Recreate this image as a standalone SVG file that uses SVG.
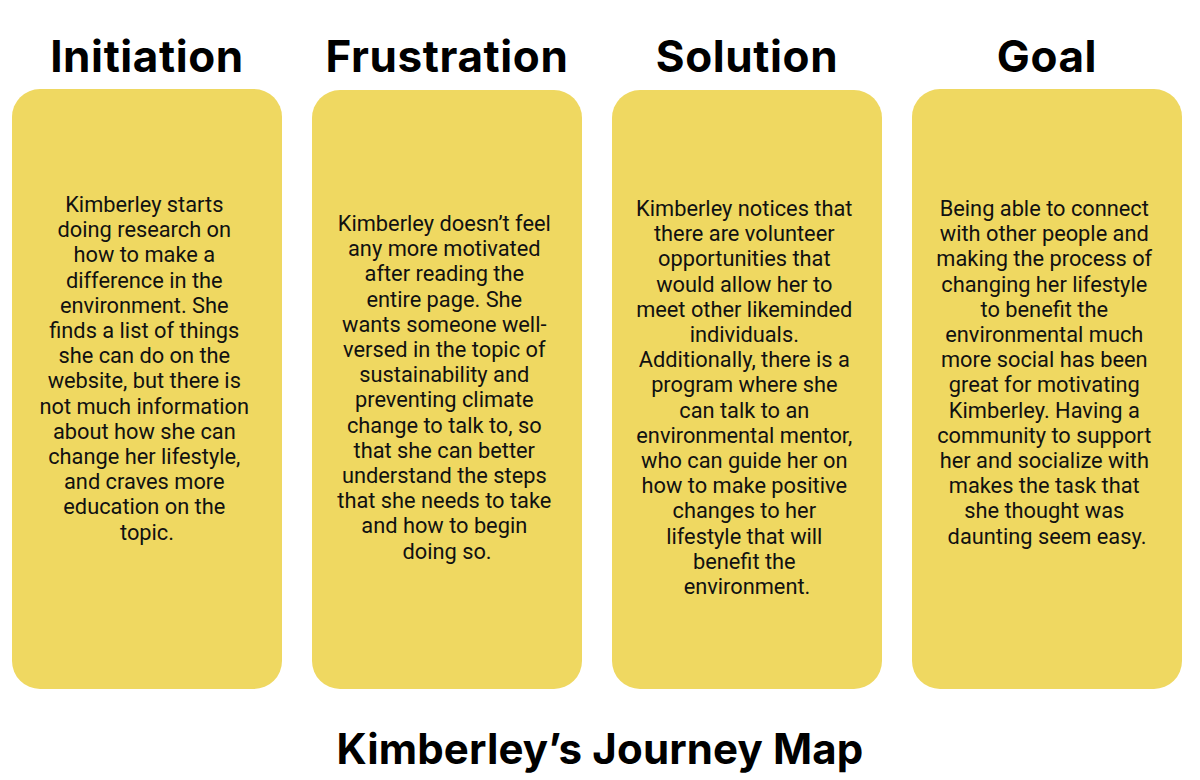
<svg xmlns="http://www.w3.org/2000/svg" width="1200" height="780" viewBox="0 0 1200 780">
<style>
.card{fill:#EFD861}
.h{font-family:Inter,"Liberation Sans",sans-serif;font-weight:700;font-size:44px;letter-spacing:0.6px;fill:#000;text-anchor:middle}
.t{font-family:Inter,"Liberation Sans",sans-serif;font-weight:700;font-size:42px;letter-spacing:0.15px;fill:#000;text-anchor:middle}
.b{font-family:Roboto,"Liberation Sans",sans-serif;font-size:21.8px;fill:#111;text-anchor:middle}
</style>
<rect width="1200" height="780" fill="#fff"/>
<g id="initiation">
<text class="h" x="147" y="72">Initiation</text>
<rect class="card" x="12" y="89" width="270" height="600" rx="28"/>
<text class="b" x="147" y="212">
<tspan x="147">Kimberley starts</tspan>
<tspan x="147" dy="25.2">doing research on</tspan>
<tspan x="147" dy="25.2">how to make a</tspan>
<tspan x="147" dy="25.2">difference in the</tspan>
<tspan x="147" dy="25.2">environment. She</tspan>
<tspan x="147" dy="25.2">finds a list of things</tspan>
<tspan x="147" dy="25.2">she can do on the</tspan>
<tspan x="147" dy="25.2">website, but there is</tspan>
<tspan x="147" dy="25.2">not much information</tspan>
<tspan x="147" dy="25.2">about how she can</tspan>
<tspan x="147" dy="25.2">change her lifestyle,</tspan>
<tspan x="147" dy="25.2">and craves more</tspan>
<tspan x="147" dy="25.2">education on the</tspan>
<tspan x="147" dy="25.2">topic.</tspan>
</text>
</g>
<g id="frustration">
<text class="h" x="447" y="72">Frustration</text>
<rect class="card" x="312" y="90" width="270" height="599" rx="28"/>
<text class="b" x="447" y="231">
<tspan x="447">Kimberley doesn’t feel</tspan>
<tspan x="447" dy="25.2">any more motivated</tspan>
<tspan x="447" dy="25.2">after reading the</tspan>
<tspan x="447" dy="25.2">entire page. She</tspan>
<tspan x="447" dy="25.2">wants someone well-</tspan>
<tspan x="447" dy="25.2">versed in the topic of</tspan>
<tspan x="447" dy="25.2">sustainability and</tspan>
<tspan x="447" dy="25.2">preventing climate</tspan>
<tspan x="447" dy="25.2">change to talk to, so</tspan>
<tspan x="447" dy="25.2">that she can better</tspan>
<tspan x="447" dy="25.2">understand the steps</tspan>
<tspan x="447" dy="25.2">that she needs to take</tspan>
<tspan x="447" dy="25.2">and how to begin</tspan>
<tspan x="447" dy="25.2">doing so.</tspan>
</text>
</g>
<g id="solution">
<text class="h" x="747" y="72">Solution</text>
<rect class="card" x="612" y="90" width="270" height="599" rx="28"/>
<text class="b" x="747" y="216">
<tspan x="747">Kimberley notices that</tspan>
<tspan x="747" dy="25.2">there are volunteer</tspan>
<tspan x="747" dy="25.2">opportunities that</tspan>
<tspan x="747" dy="25.2">would allow her to</tspan>
<tspan x="747" dy="25.2">meet other likeminded</tspan>
<tspan x="747" dy="25.2">individuals.</tspan>
<tspan x="747" dy="25.2">Additionally, there is a</tspan>
<tspan x="747" dy="25.2">program where she</tspan>
<tspan x="747" dy="25.2">can talk to an</tspan>
<tspan x="747" dy="25.2">environmental mentor,</tspan>
<tspan x="747" dy="25.2">who can guide her on</tspan>
<tspan x="747" dy="25.2">how to make positive</tspan>
<tspan x="747" dy="25.2">changes to her</tspan>
<tspan x="747" dy="25.2">lifestyle that will</tspan>
<tspan x="747" dy="25.2">benefit the</tspan>
<tspan x="747" dy="25.2">environment.</tspan>
</text>
</g>
<g id="goal">
<text class="h" x="1047" y="72">Goal</text>
<rect class="card" x="912" y="89" width="270" height="600" rx="28"/>
<text class="b" x="1047" y="216">
<tspan x="1047">Being able to connect</tspan>
<tspan x="1047" dy="25.2">with other people and</tspan>
<tspan x="1047" dy="25.2">making the process of</tspan>
<tspan x="1047" dy="25.2">changing her lifestyle</tspan>
<tspan x="1047" dy="25.2">to benefit the</tspan>
<tspan x="1047" dy="25.2">environmental much</tspan>
<tspan x="1047" dy="25.2">more social has been</tspan>
<tspan x="1047" dy="25.2">great for motivating</tspan>
<tspan x="1047" dy="25.2">Kimberley. Having a</tspan>
<tspan x="1047" dy="25.2">community to support</tspan>
<tspan x="1047" dy="25.2">her and socialize with</tspan>
<tspan x="1047" dy="25.2">makes the task that</tspan>
<tspan x="1047" dy="25.2">she thought was</tspan>
<tspan x="1047" dy="25.2">daunting seem easy.</tspan>
</text>
</g>
<g id="connectors"></g>
<text class="t" x="600" y="764">Kimberley’s Journey Map</text>
</svg>
